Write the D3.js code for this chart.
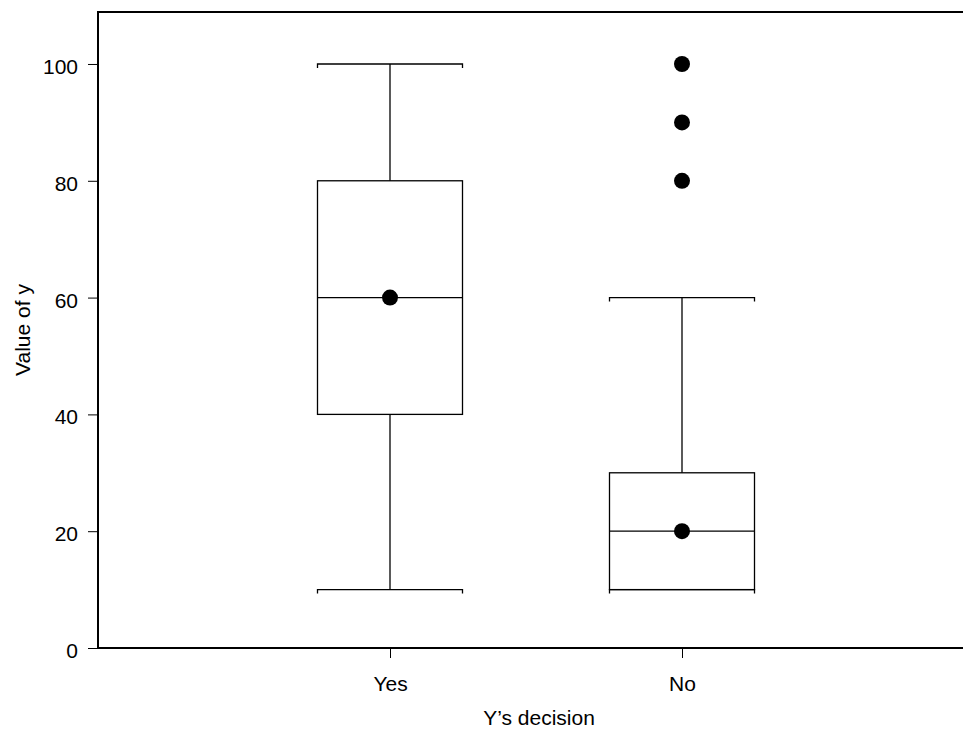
<!DOCTYPE html>
<html lang="en">
<meta charset="utf-8">
<script src="https://d3js.org/d3.v7.min.js"></script>
<style>
  body { margin: 0; background: #fff; }
  svg text { font-family: "Liberation Sans", Arial, sans-serif; }
</style>
<div id="my_dataviz"></div>
<script>

// data
var groups = ["Yes", "No"];
var whiskerLow = [10, 10];
var boxLow = [40, 10];
var medians = [60, 20];
var boxHigh = [80, 30];
var whiskerHigh = [100, 60];
var means = [60, 20];
var outliers = [[], [80, 90, 100]];
var yTicks = [0, 20, 40, 60, 80, 100];

var W = 963, H = 733;
var plotLeft = 98, plotTop = 12, plotBottom = 648;
var fontSize = "21px";

var svg = d3.select("#my_dataviz")
  .append("svg")
    .attr("width", W)
    .attr("height", H);

var y = d3.scaleLinear()
  .domain([0, 108.9])
  .range([plotBottom, plotTop]);

var x = d3.scalePoint()
  .domain(groups)
  .range([plotLeft, 974])
  .padding(1);

var halfW = 72.5;

// y axis
var yAxis = svg.append("g")
  .attr("transform", "translate(" + plotLeft + ",0)")
  .call(d3.axisLeft(y).tickValues(yTicks).tickSize(10).tickPadding(10));
yAxis.select(".domain").remove();
yAxis.selectAll("text").style("font-size", fontSize).attr("fill", "#000").attr("dy", "0.45em");
yAxis.selectAll("line").attr("stroke", "#000");

// x axis
var xAxis = svg.append("g")
  .attr("transform", "translate(0," + plotBottom + ")")
  .call(d3.axisBottom(x).tickSize(10).tickPadding(18));
xAxis.select(".domain").remove();
xAxis.selectAll("text").style("font-size", fontSize).attr("fill", "#000");
xAxis.selectAll("line").attr("stroke", "#000");

// frame: left, top, bottom
svg.append("path")
  .attr("d", "M" + W + "," + plotTop + "H" + plotLeft + "V" + plotBottom + "H" + W)
  .attr("fill", "none")
  .attr("stroke", "#000")
  .attr("stroke-width", 2);

var g = svg.append("g");

groups.forEach(function(grp, i) {
  var cx = x(grp);
  // whiskers
  g.append("line")
    .attr("x1", cx).attr("x2", cx)
    .attr("y1", y(boxHigh[i])).attr("y2", y(whiskerHigh[i]))
    .attr("stroke", "#000").attr("stroke-width", 1.3);
  g.append("line")
    .attr("x1", cx).attr("x2", cx)
    .attr("y1", y(boxLow[i])).attr("y2", y(whiskerLow[i]))
    .attr("stroke", "#000").attr("stroke-width", 1.3);
  // caps
  [whiskerHigh[i], whiskerLow[i]].forEach(function(v) {
    var yy = y(v);
    g.append("path")
      .attr("d", "M" + (cx - halfW) + "," + (yy + 4) + "V" + yy + "H" + (cx + halfW) + "V" + (yy + 4))
      .attr("fill", "none").attr("stroke", "#000").attr("stroke-width", 1.3);
  });
  // box
  g.append("rect")
    .attr("x", cx - halfW)
    .attr("y", y(boxHigh[i]))
    .attr("width", halfW * 2)
    .attr("height", y(boxLow[i]) - y(boxHigh[i]))
    .attr("fill", "none").attr("stroke", "#000").attr("stroke-width", 1.3);
  // median
  g.append("line")
    .attr("x1", cx - halfW).attr("x2", cx + halfW)
    .attr("y1", y(medians[i])).attr("y2", y(medians[i]))
    .attr("stroke", "#000").attr("stroke-width", 1.3);
  // mean
  g.append("circle")
    .attr("cx", cx).attr("cy", y(means[i])).attr("r", 8)
    .attr("fill", "#000");
  // outliers
  outliers[i].forEach(function(v) {
    g.append("circle")
      .attr("cx", cx).attr("cy", y(v)).attr("r", 8)
      .attr("fill", "#000");
  });
});

// axis titles
svg.append("text")
  .attr("x", 539)
  .attr("y", 725)
  .attr("text-anchor", "middle")
  .style("font-size", fontSize)
  .text("Y\u2019s decision");

svg.append("text")
  .attr("transform", "translate(30," + ((plotTop + plotBottom) / 2) + ") rotate(-90)")
  .attr("text-anchor", "middle")
  .style("font-size", fontSize)
  .text("Value of y");

</script>
</html>
